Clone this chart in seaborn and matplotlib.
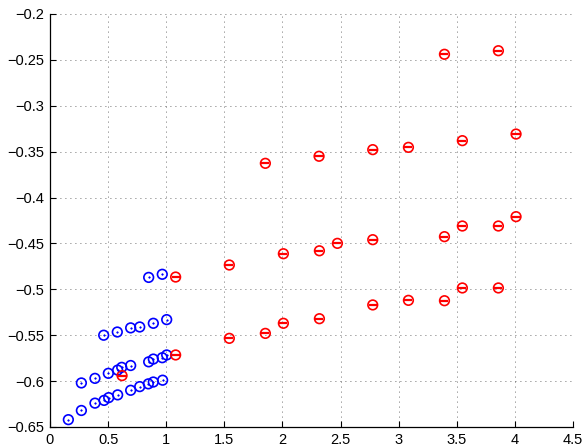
import numpy as np
import pandas as pd
import matplotlib
matplotlib.use("Agg")
import matplotlib.pyplot as plt
import seaborn as sns

blue_x = [0.158, 0.27, 0.387, 0.465, 0.505, 0.582, 0.694, 0.772, 0.846, 0.889, 0.969,
          0.27, 0.387, 0.502, 0.582, 0.617, 0.694, 0.849, 0.889, 0.966, 1.004,
          0.462, 0.579, 0.694, 0.772, 0.889, 1.004,
          0.849, 0.966]
blue_y = [-0.642, -0.632, -0.624, -0.621, -0.618, -0.615, -0.610, -0.606, -0.603, -0.601, -0.599,
          -0.602, -0.597, -0.5915, -0.588, -0.585, -0.583, -0.579, -0.576, -0.5745, -0.5715,
          -0.550, -0.5465, -0.542, -0.541, -0.537, -0.533,
          -0.487, -0.4836]

red_x = [0.62, 1.081, 1.081,
         1.543, 1.853, 2.008, 2.318, 2.777, 3.084, 3.394, 3.548, 3.858,
         1.543, 2.008, 2.318, 2.473, 2.777, 3.394, 3.548, 3.858, 4.010,
         1.853, 2.315, 2.777, 3.084, 3.548, 4.010,
         3.394, 3.858]
red_y = [-0.594, -0.5715, -0.4866,
         -0.5534, -0.548, -0.537, -0.532, -0.517, -0.512, -0.5124, -0.4985, -0.4985,
         -0.4735, -0.4612, -0.458, -0.4499, -0.4459, -0.4426, -0.431, -0.431, -0.4208,
         -0.3627, -0.355, -0.3478, -0.3453, -0.338, -0.3308,
         -0.2439, -0.240]

x_ticks = [0, 0.5, 1, 1.5, 2, 2.5, 3, 3.5, 4, 4.5]
y_ticks = [-0.65, -0.6, -0.55, -0.5, -0.45, -0.4, -0.35, -0.3, -0.25, -0.2]

blue = pd.DataFrame({"x": blue_x, "y": blue_y})
red = pd.DataFrame({"x": red_x, "y": red_y})

sns.set_style("white")
plt.rcParams["font.family"] = ["Liberation Sans", "DejaVu Sans"]

fig = plt.figure(figsize=(5.85, 4.46), dpi=100)
ax = fig.add_axes([50/585, 1 - 427/446, 523/585, 413/446])

# blue: circle with center dot
sns.scatterplot(data=blue, x="x", y="y", ax=ax, marker="o", s=48,
                facecolors="none", edgecolor="#0000ff", linewidth=1.2, zorder=3)
sns.scatterplot(data=blue, x="x", y="y", ax=ax, marker=".", s=5,
                color="#0000ff", edgecolor="#0000ff", linewidth=0.4, zorder=4)
# red: circle with horizontal bar
sns.scatterplot(data=red, x="x", y="y", ax=ax, marker="o", s=48,
                facecolors="none", edgecolor="#ff0000", linewidth=1.2, zorder=3)
sns.scatterplot(data=red, x="x", y="y", ax=ax, marker="_", s=40,
                color="#ff0000", linewidth=1.6, zorder=4)

ax.set_xlim(0, 4.5)
ax.set_ylim(-0.65, -0.2)
ax.set_xticks(x_ticks)
ax.set_xticklabels([f"{t:g}" for t in x_ticks])
ax.set_yticks(y_ticks)
ax.set_yticklabels([f"{t:g}".replace("-", "\u2212") for t in y_ticks])
ax.set_xlabel("")
ax.set_ylabel("")

ax.grid(True, color="black", linestyle=(0, (1, 5)), linewidth=0.6, alpha=0.75)
ax.set_axisbelow(True)
for s in ["top", "right"]:
    ax.spines[s].set_visible(False)
for s in ["left", "bottom"]:
    ax.spines[s].set_color("black")
    ax.spines[s].set_linewidth(0.9)
ax.tick_params(direction="in", length=4, width=0.8, colors="black",
               labelsize=10.5, left=True, bottom=True, pad=4)

fig.savefig("out.png", dpi=100, facecolor="white")
